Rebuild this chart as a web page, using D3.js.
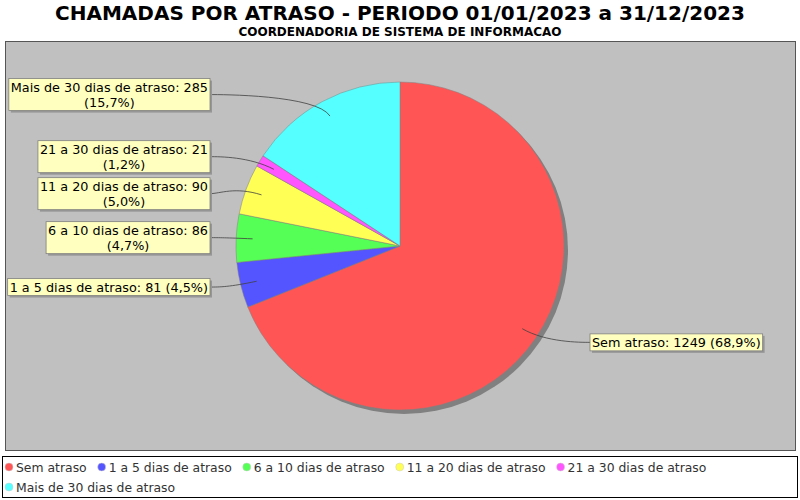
<!DOCTYPE html>
<html>
<head>
<meta charset="utf-8">
<script src="https://cdn.jsdelivr.net/npm/d3@7"></script>
<style>
  body { margin: 0; background: #ffffff; }
  svg text { font-family: "DejaVu Sans", sans-serif; }
</style>
</head>
<body>
<div id="chart"></div>
<script>

// Chart data
var title = "CHAMADAS POR ATRASO - PERIODO 01/01/2023 a 31/12/2023";
var subtitle = "COORDENADORIA DE SISTEMA DE INFORMACAO";
var categories = ["Sem atraso", "1 a 5 dias de atraso", "6 a 10 dias de atraso",
  "11 a 20 dias de atraso", "21 a 30 dias de atraso", "Mais de 30 dias de atraso"];
var values = [1249, 81, 86, 90, 21, 285];
var colors = ["#ff5555", "#5555ff", "#55ff55", "#ffff55", "#ff55ff", "#55ffff"];

var width = 800, height = 500;
var cx = 400, cy = 246, radius = 164;

var svg = d3.select("#chart")
  .append("svg")
  .attr("width", width)
  .attr("height", height);

// Titles
svg.append("text")
  .attr("x", width / 2)
  .attr("y", 20)
  .attr("text-anchor", "middle")
  .style("font-size", "20px")
  .style("font-weight", "bold")
  .text(title);

svg.append("text")
  .attr("x", width / 2)
  .attr("y", 36)
  .attr("text-anchor", "middle")
  .style("font-size", "12px")
  .style("font-weight", "bold")
  .text(subtitle);

// Plot background
svg.append("rect")
  .attr("x", 5.5).attr("y", 41.5)
  .attr("width", 790).attr("height", 409)
  .attr("fill", "#c0c0c0")
  .attr("stroke", "#555555");

var total = d3.sum(values);
var pie = d3.pie().sort(null).value(function(d) { return d; });
var arcs = pie(values);
var arc = d3.arc().innerRadius(0).outerRadius(radius);

var g = svg.append("g").attr("transform", "translate(" + cx + "," + cy + ")");

// Shadow
g.append("circle")
  .attr("cx", 4).attr("cy", 4)
  .attr("r", radius)
  .attr("fill", "#808080");

// Slices
g.selectAll("path.slice")
  .data(arcs)
  .enter()
  .append("path")
  .attr("class", "slice")
  .attr("d", arc)
  .attr("fill", function(d, i) { return colors[i]; })
  .attr("stroke", "#808080")
  .attr("stroke-width", 0.5);

// Labels
var pctFormat = d3.format(".1f");
function labelText(i) {
  return categories[i] + ": " + values[i] + " (" + pctFormat(values[i] / total * 100).replace(".", ",") + "%)";
}

var measure = svg.append("text").attr("visibility", "hidden");
function textWidth(s, size) {
  measure.style("font-size", size + "px").text(s);
  return measure.node().getComputedTextLength();
}

var labelSize = 12.8;
var maxWidth = 202, lineH = 15, padX = 2, padY = 1, gap = 5;
var labels = arcs.map(function(d, i) {
  var mid = (d.startAngle + d.endAngle) / 2;
  var full = labelText(i);
  var lines = [full];
  if (textWidth(full, labelSize) > maxWidth) {
    var k = full.lastIndexOf(" (");
    lines = [full.slice(0, k), full.slice(k + 1)];
  }
  var w = d3.max(lines, function(s) { return textWidth(s, labelSize); }) + padX * 2;
  var h = lines.length * lineH + padY * 2;
  return {
    i: i, mid: mid, lines: lines, w: w, h: h,
    left: Math.sin(mid) < 0,
    y: cy - Math.cos(mid) * 172
  };
});

// Push overlapping labels apart on each side
[true, false].forEach(function(side) {
  var group = labels.filter(function(l) { return l.left === side; })
    .sort(function(a, b) { return a.y - b.y; });
  for (var k = 1; k < group.length; k++) {
    var minY = group[k - 1].y + (group[k - 1].h + group[k].h) / 2 + gap;
    if (group[k].y < minY) group[k].y = minY;
  }
});

labels.forEach(function(l) {
  var sx = l.left ? -1 : 1;
  var anchorX = cx + sx * 180;
  var targetX = anchorX + sx * 10;
  var elbowX = cx + Math.sin(l.mid) * 176;
  var elbowY = cy - Math.cos(l.mid) * 172;
  var linkX = cx + Math.sin(l.mid) * radius * 0.9;
  var linkY = cy - Math.cos(l.mid) * radius * 0.9;

  var p = d3.path();
  p.moveTo(targetX, l.y);
  p.bezierCurveTo(anchorX, l.y, elbowX, elbowY, linkX, linkY);
  svg.append("path")
    .attr("d", p.toString())
    .attr("fill", "none")
    .attr("stroke", "#404040")
    .attr("stroke-width", 0.8);

  var bx = l.left ? targetX - l.w : targetX;
  var by = l.y - l.h / 2;
  svg.append("rect")
    .attr("x", bx + 2).attr("y", by + 2)
    .attr("width", l.w).attr("height", l.h)
    .attr("fill", "#969696");
  svg.append("rect")
    .attr("x", bx).attr("y", by)
    .attr("width", l.w).attr("height", l.h)
    .attr("fill", "#ffffc0")
    .attr("stroke", "#808080")
    .attr("stroke-width", 0.8);
  l.lines.forEach(function(s, j) {
    svg.append("text")
      .attr("x", bx + l.w / 2)
      .attr("y", by + padY + lineH * j + 12)
      .attr("text-anchor", "middle")
      .style("font-size", labelSize + "px")
      .attr("fill", "#000")
      .text(s);
  });
});

// Legend
svg.append("rect")
  .attr("x", 2.5).attr("y", 456.5)
  .attr("width", 795).attr("height", 41)
  .attr("fill", "#ffffff")
  .attr("stroke", "#000000");

var legendSize = 12.4;
var lx = 5, ly = 467, legendRight = 795;
categories.forEach(function(c, i) {
  var w = 11 + textWidth(c, legendSize) + 11;
  if (lx + w > legendRight) { lx = 5; ly += 20; }
  svg.append("circle")
    .attr("cx", lx + 4).attr("cy", ly)
    .attr("r", 4)
    .attr("fill", colors[i])
    .attr("stroke", "#cccccc")
    .attr("stroke-width", 0.5);
  svg.append("text")
    .attr("x", lx + 11)
    .attr("y", ly + 4.5)
    .style("font-size", legendSize + "px")
    .attr("fill", "#333333")
    .text(c);
  lx += w;
});

measure.remove();
</script>
</body>
</html>
